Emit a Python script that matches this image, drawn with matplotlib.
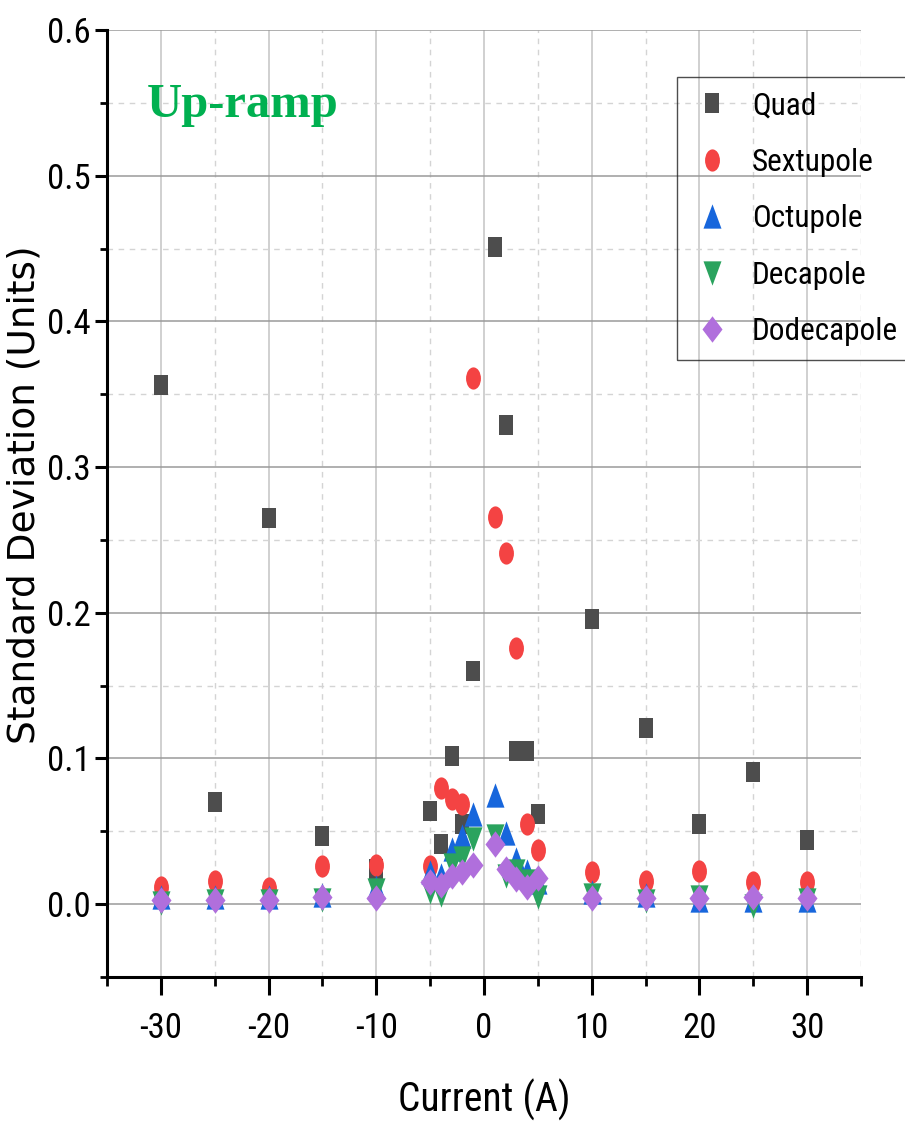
import numpy as np
import matplotlib
matplotlib.use("Agg")
import matplotlib.pyplot as plt
from matplotlib import font_manager as fm
from matplotlib.font_manager import FontProperties
from matplotlib.path import Path
from matplotlib.ticker import MultipleLocator

# Measured standard deviation of each harmonic during the up-ramp
currents = [-30, -25, -20, -15, -10, -5, -4, -3, -2, -1, 1, 2, 3, 4, 5, 10, 15, 20, 25, 30]
quad = [0.356, 0.070, 0.265, 0.047, 0.024, 0.064, 0.041, 0.102, 0.055, 0.160,
        0.451, 0.329, 0.105, 0.105, 0.062, 0.196, 0.121, 0.055, 0.091, 0.044]
sextupole = [0.012, 0.016, 0.011, 0.026, 0.027, 0.026, 0.080, 0.072, 0.069, 0.361,
             0.266, 0.241, 0.176, 0.055, 0.037, 0.022, 0.016, 0.023, 0.015, 0.015]
octupole = [0.005, 0.005, 0.005, 0.006, 0.012, 0.022, 0.020, 0.038, 0.047, 0.062,
            0.075, 0.049, 0.031, 0.023, 0.015, 0.008, 0.006, 0.003, 0.003, 0.003]
decapole = [0.001, 0.002, 0.002, 0.003, 0.010, 0.008, 0.006, 0.027, 0.032, 0.045,
            0.047, 0.019, 0.023, 0.016, 0.005, 0.006, 0.002, 0.005, -0.001, 0.003]
dodecapole = [0.003, 0.003, 0.003, 0.005, 0.004, 0.015, 0.013, 0.019, 0.022, 0.027,
              0.041, 0.024, 0.017, 0.012, 0.018, 0.004, 0.004, 0.004, 0.005, 0.004]

series_names = ["Quad", "Sextupole", "Octupole", "Decapole", "Dodecapole"]
series_values = [quad, sextupole, octupole, decapole, dodecapole]
y_tick_values = [0.0, 0.1, 0.2, 0.3, 0.4, 0.5, 0.6]
y_tick_labels = ["0.0", "0.1", "0.2", "0.3", "0.4", "0.5", "0.6"]

plt.rcParams["axes.unicode_minus"] = False


def condensed_sans():
    """Return a narrow sans-serif font file if one is installed, else None."""
    wanted = ["Liberation Sans Narrow", "Arial Narrow", "Roboto Condensed",
              "Open Sans Condensed", "Noto Sans Condensed", "DejaVu Sans Condensed"]
    entries = [e for e in fm.fontManager.ttflist
               if e.style == "normal" and str(e.weight) in ("400", "normal", "regular")]
    for name in wanted:
        for e in entries:
            if e.name == name:
                return e.fname
    for e in entries:
        low = (e.name + " " + e.fname).lower()
        if ("condensed" in low or "narrow" in low or e.stretch in ("condensed", "semi-condensed")) \
                and "serif" not in e.name.lower().replace("sans", "") and "mono" not in low \
                and "semi" not in low and "extra" not in low and "ultra" not in low \
                and "bold" not in low and "light" not in low and "italic" not in low \
                and "cjk" not in low:
            return e.fname
    return None


narrow_file = condensed_sans()


def narrow_font(size):
    if narrow_file:
        return FontProperties(fname=narrow_file, size=size)
    return FontProperties(family=["Liberation Sans", "DejaVu Sans"], size=size * 0.88)


# Tall marker shapes (height is the marker size, width a fraction of it)
def tall_square(w):
    v = [(-w / 2, -0.5), (w / 2, -0.5), (w / 2, 0.5), (-w / 2, 0.5), (-w / 2, -0.5)]
    return Path(v, [Path.MOVETO] + [Path.LINETO] * 3 + [Path.CLOSEPOLY])


def tall_ellipse(w):
    c = Path.unit_circle()
    return Path(c.vertices * np.array([w / 2, 0.5]), c.codes)


def tall_triangle(w, up=True):
    s = 1 if up else -1
    v = [(0, 0.5 * s), (-w / 2, -0.5 * s), (w / 2, -0.5 * s), (0, 0.5 * s)]
    return Path(v, [Path.MOVETO, Path.LINETO, Path.LINETO, Path.CLOSEPOLY])


def tall_diamond(w):
    v = [(0, 0.5), (w / 2, 0), (0, -0.5), (-w / 2, 0), (0, 0.5)]
    return Path(v, [Path.MOVETO] + [Path.LINETO] * 3 + [Path.CLOSEPOLY])


markers = [tall_square(0.66), tall_ellipse(0.67), tall_triangle(0.74, True),
           tall_triangle(0.74, False), tall_diamond(0.76)]
sizes = [15.0, 16.0, 17.5, 17.5, 19.0]
colors = ["#4d4d4d", "#f44343", "#1766dc", "#2aa35e", "#b06fdc"]

fig = plt.figure(figsize=(9.05, 11.25), dpi=100)
ax = fig.add_axes([107 / 905, 1 - 977 / 1125, (861 - 107) / 905, (977 - 30) / 1125])

for name, vals, m, ms, c in zip(series_names, series_values, markers, sizes, colors):
    ax.plot(currents, vals, linestyle="none", marker=m, markersize=ms,
            color=c, markeredgewidth=0, label=name, zorder=3)

ax.set_xlim(-35, 35)
ax.set_ylim(-0.05, 0.6)
ax.xaxis.set_major_locator(MultipleLocator(10))
ax.xaxis.set_minor_locator(MultipleLocator(5))
ax.yaxis.set_minor_locator(MultipleLocator(0.05))
ax.set_yticks(y_tick_values)
ax.set_yticklabels(y_tick_labels)

# Grid: solid on major ticks, dashed on minor ticks
ax.grid(axis="x", which="major", color="#c4c4c4", linewidth=1.1)
ax.grid(axis="y", which="major", color="#9a9a9a", linewidth=1.1)
ax.grid(which="minor", color="#d4d4d4", linewidth=1.0, linestyle=(0, (4, 4)))
ax.set_axisbelow(True)

for side in ("top", "right"):
    ax.spines[side].set_visible(False)
for side in ("left", "bottom"):
    ax.spines[side].set_linewidth(2.2)
    ax.spines[side].set_color("black")

ax.tick_params(axis="y", which="major", direction="out", length=8.6, width=2.2, pad=3)
ax.tick_params(axis="y", which="minor", direction="out", length=5, width=2.0)
ax.tick_params(axis="x", which="major", direction="out", length=13, width=2.2, pad=12)
ax.tick_params(axis="x", which="minor", direction="out", length=6.5, width=2.0)
for lab in ax.get_xticklabels() + ax.get_yticklabels():
    lab.set_fontproperties(narrow_font(25))

ax.set_xlabel("Current (A)", fontproperties=narrow_font(28.5))
ax.xaxis.label.set_verticalalignment("center")
ax.xaxis.set_label_coords(0.5, (977 - 1100) / 947)

ax.set_ylabel("Standard Deviation (Units)", fontfamily=["DejaVu Sans"], fontsize=27)
ax.yaxis.label.set_verticalalignment("center")
ax.yaxis.set_label_coords((24 - 107) / 754, (977 - 495) / 947)

ax.text(-31.3, 0.540, "Up-ramp", color="#00b050", fontsize=35, fontweight="bold",
        fontfamily=["Liberation Serif", "DejaVu Serif"], va="baseline", ha="left")


def build_legend(size):
    leg = ax.legend(loc="upper left",
                    bbox_to_anchor=((677 - 107) / 754, (977 - 77) / 947),
                    borderaxespad=0, frameon=True, fancybox=False,
                    prop=narrow_font(size),
                    handlelength=1.35, handletextpad=0.6, labelspacing=0.88,
                    borderpad=0.45, markerscale=1.0)
    leg.get_frame().set_facecolor("none")
    leg.get_frame().set_edgecolor("#222222")
    leg.get_frame().set_linewidth(1.0)
    return leg


# Legend sits against the right edge; shrink its text until it fits
legend_size = 25.0
leg = build_legend(legend_size)
renderer = fig.canvas.get_renderer()
for _ in range(20):
    fig.canvas.draw()
    right = max(t.get_window_extent(renderer).x1 for t in leg.get_texts())
    if right <= 902:
        break
    legend_size -= 0.5
    leg.remove()
    leg = build_legend(legend_size)

fig.savefig("out.png", dpi=100)
